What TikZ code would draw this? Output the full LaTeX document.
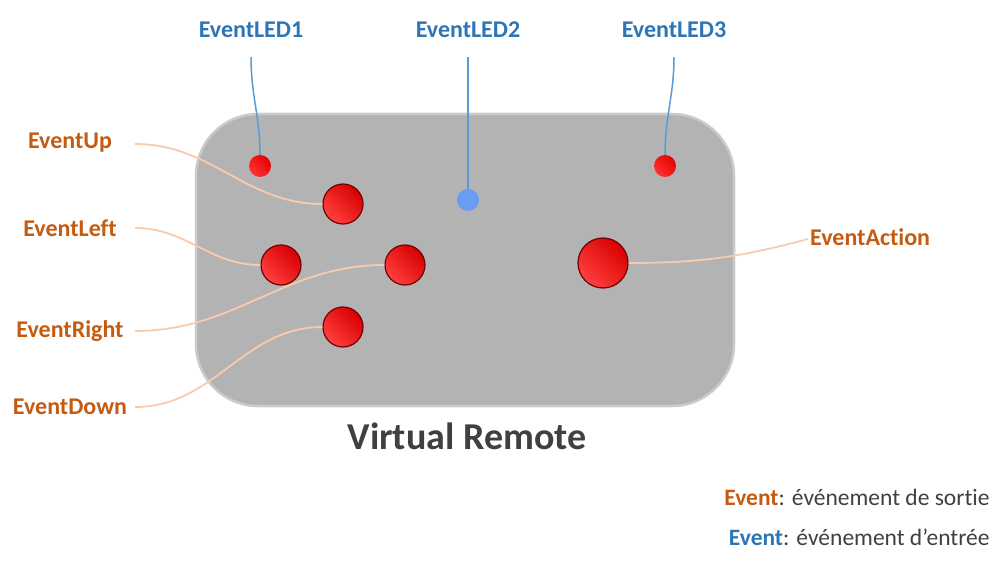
\documentclass[tikz,border=0pt]{standalone}
\usepackage{fontspec}
\setmainfont[Ligatures=NoCommon]{Carlito}
\usepackage{tikz}
\usetikzlibrary{shapes,arrows}
\definecolor{outorange}{HTML}{C55A11}
\definecolor{inblue}{HTML}{2E75B6}
\definecolor{wireorange}{HTML}{F8CBAD}
\definecolor{wireblue}{HTML}{5B9BD5}
\definecolor{darktext}{HTML}{404040}
\definecolor{boxgray}{HTML}{B3B3B3}
\definecolor{boxedge}{HTML}{CBCBCB}
\definecolor{ledblue}{HTML}{6A9CF2}

\begin{document}
\begin{tikzpicture}[x=1pt,y=-1pt,
    outlabel/.style={text=outorange,font=\fontsize{24}{28}\selectfont\bfseries,inner sep=0pt},
    inlabel/.style={text=inblue,font=\fontsize{24}{28}\selectfont\bfseries,inner sep=0pt,minimum height=54pt},
    button/.style={circle,draw=red!45!black,line width=1.2pt,minimum size=#1,inner sep=0pt,
        left color=red!85!black,right color=red!75!white,shading angle=-45},
    led/.style={circle,minimum size=22pt,inner sep=0pt,left color=red!90!black,right color=red!80!white,shading angle=-45},
    outwire/.style={draw=wireorange,line width=1.8pt},
    inwire/.style={draw=wireblue,line width=1.5pt}]
    \useasboundingbox (0,0) rectangle (1007,567);
    %Remote
    \filldraw[fill=boxgray,draw=boxedge,line width=2.5pt,rounded corners=62pt] (196,114) rectangle (734,406);
    \node[font=\fontsize{38}{44}\selectfont\bfseries,text=darktext] (title) at (467,436) {Virtual Remote};
    %Output labels
    \node[outlabel,minimum width=130pt] (up) at (70,143) {EventUp};
    \node[outlabel,minimum width=130pt] (left) at (70,228) {EventLeft};
    \node[outlabel,minimum width=130pt] (right) at (70,331) {EventRight};
    \node[outlabel,minimum width=130pt] (down) at (70,407) {EventDown};
    \node[outlabel,anchor=west,inner xsep=2pt] (action) at (808,237) {EventAction};
    %Input labels
    \node[inlabel] (led1) at (251,30) {EventLED1};
    \node[inlabel] (led2) at (468,30) {EventLED2};
    \node[inlabel] (led3) at (674,30) {EventLED3};
    %Buttons
    \node[button=40pt] (bup) at (343,204) {};
    \node[button=40pt] (bleft) at (281,265) {};
    \node[button=40pt] (bright) at (405,265) {};
    \node[button=40pt] (bdown) at (343,327) {};
    \node[button=50pt] (baction) at (603,263) {};
    %LEDs
    \node[led] (l1) at (260,166) {};
    \node[circle,minimum size=22pt,inner sep=0pt,fill=ledblue] (l2) at (468,200) {};
    \node[led] (l3) at (665,166) {};
    %Wires
    \draw[outwire] ([yshift=-1pt]up.east) to[out=0,in=180] (bup.west);
    \draw[outwire] (left.east) to[out=0,in=180] (bleft.west);
    \draw[outwire] (right.east) to[out=0,in=180] (bright.west);
    \draw[outwire] (down.east) to[out=0,in=180] (bdown.west);
    \draw[outwire] (baction.east) to[out=0,in=195] ([yshift=-2pt]action.west);
    \draw[inwire] (led1.south) to[out=-90,in=90] (l1.north);
    \draw[inwire] (led2.south) -- (l2.north);
    \draw[inwire] (led3.south) to[out=-90,in=90] (l3.north);
    %Legend
    \node[anchor=east,text=darktext,font=\fontsize{23.5}{28}\selectfont] (legout) at (993,497) {{\color{outorange}\bfseries Event}: événement de sortie};
    \node[anchor=east,text=darktext,font=\fontsize{23.5}{28}\selectfont] (legin) at (993,537) {{\color{inblue}\bfseries Event}: événement d’entrée};
\end{tikzpicture}
\end{document}
